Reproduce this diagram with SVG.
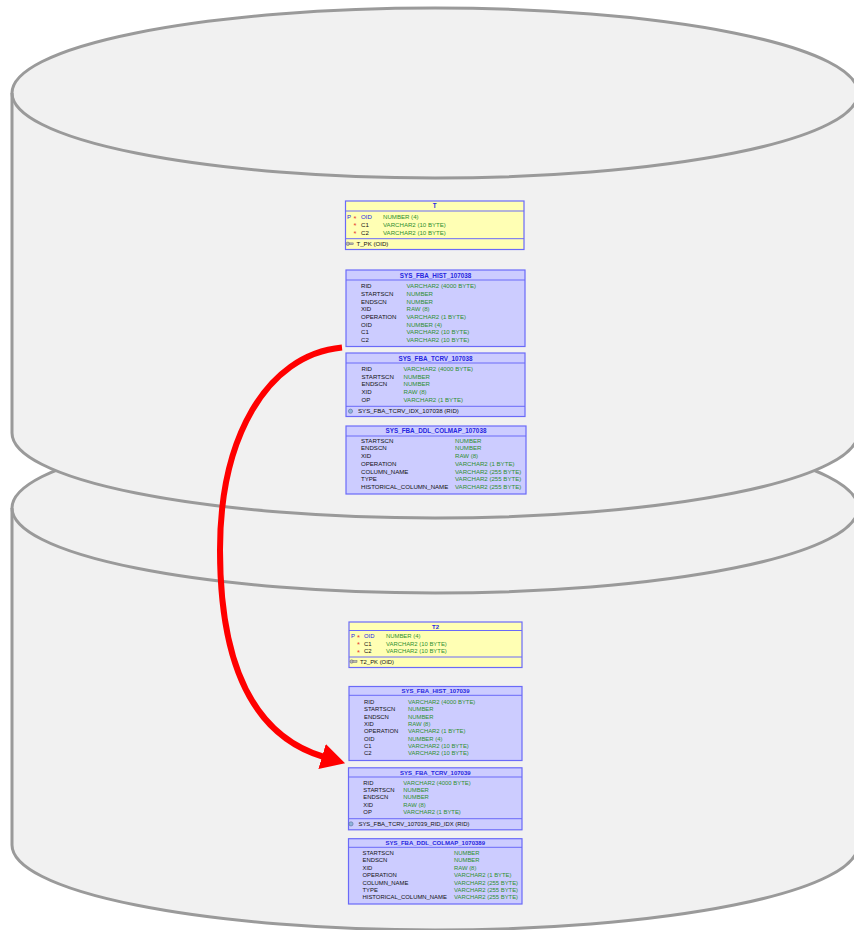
<svg xmlns="http://www.w3.org/2000/svg" width="854" height="930" viewBox="0 0 854 930">
  <style>
    .cyl { fill: #f1f1f1; stroke: #9a9a9a; stroke-width: 3; }
    .cyl-edge { fill: none; stroke: #9a9a9a; stroke-width: 3; }
    .tbl-y { fill: #ffffb4; stroke: #6a6af8; stroke-width: 1.2; }
    .tbl-p { fill: #ccccff; stroke: #6a6af8; stroke-width: 1.2; }
    .sep { stroke: #6a6af8; stroke-width: 1; }
    text { font-family: "Liberation Sans", Arial, sans-serif; }
    .hdr { font-size: 6.3px; font-weight: bold; fill: #2626e0; text-anchor: middle; }
    .lo .hdr { font-size: 6px; }
    .c { font-size: 6.1px; fill: #111; }
    .t { font-size: 6.1px; fill: #2f8f2f; }
    .lo .c, .lo .t { font-size: 5.9px; }
    .pk { fill: #2626e0; }
    .star { font-size: 7.5px; fill: #e63b2e; }
    .flow { fill: none; stroke: #ff0000; stroke-width: 6; }
  </style>
  <defs>
    <marker id="head" markerUnits="userSpaceOnUse" markerWidth="26" markerHeight="28" refX="2" refY="13" orient="auto">
      <path d="M0,0 L24,13 L0,26 Z" fill="#ff0000"/>
    </marker>
    <g id="key">
      <circle cx="1.8" cy="0" r="1.7" fill="#b8b8b8" stroke="#6e6e6e" stroke-width="0.6"/>
      <rect x="3.2" y="-0.9" width="4" height="1.8" fill="#b8b8b8" stroke="#6e6e6e" stroke-width="0.5"/>
    </g>
    <g id="idx">
      <circle cx="0" cy="0" r="2.1" fill="#8fb4dc" stroke="#5a6f9a" stroke-width="0.6"/>
    </g>
  </defs>

  <!-- lower cylinder (drawn first, sits behind) -->
  <g id="cylinder-lower">
    <path class="cyl" d="M12 508 A423 85 0 0 1 858 508 L858 845 A423 85 0 0 1 12 845 Z"/>
    <path class="cyl-edge" d="M12 508 A423 85 0 0 0 858 508"/>
  </g>

  <!-- upper cylinder -->
  <g id="cylinder-upper">
    <path class="cyl" d="M12 93 A423 85 0 0 1 858 93 L858 433 A423 85 0 0 1 12 433 Z"/>
    <path class="cyl-edge" d="M12 93 A423 85 0 0 0 858 93"/>
  </g>

  <!-- table T -->
  <g id="tbl-T">
    <rect class="tbl-y" x="345.5" y="201" width="178.5" height="48.5"/>
    <line class="sep" x1="345.5" y1="211" x2="524" y2="211"/>
    <line class="sep" x1="345.5" y1="238.7" x2="524" y2="238.7"/>
    <text class="hdr" x="434.8" y="208.3">T</text>
    <text class="c pk" x="347" y="219">P</text>
    <text class="star" x="353.5" y="220.5">*</text>
    <text class="c pk" x="361" y="219">OID</text>
    <text class="t" x="383" y="219">NUMBER (4)</text>
    <text class="star" x="353.5" y="228.3">*</text>
    <text class="c" x="361" y="226.8">C1</text>
    <text class="t" x="383" y="226.8">VARCHAR2 (10 BYTE)</text>
    <text class="star" x="353.5" y="236.1">*</text>
    <text class="c" x="361" y="234.6">C2</text>
    <text class="t" x="383" y="234.6">VARCHAR2 (10 BYTE)</text>
    <use href="#key" x="346" y="243.8"/>
    <text class="c" x="356.5" y="245.9">T_PK (OID)</text>
  </g>

  <!-- table SYS_FBA_HIST_107038 -->
  <g id="tbl-hist-107038">
    <rect class="tbl-p" x="346" y="270" width="179" height="76.5"/>
    <line class="sep" x1="346" y1="280" x2="525" y2="280"/>
    <text class="hdr" x="435.5" y="277.5">SYS_FBA_HIST_107038</text>
    <text class="c" x="361" y="288.2">RID</text><text class="t" x="406.5" y="288.2">VARCHAR2 (4000 BYTE)</text>
    <text class="c" x="361" y="295.9">STARTSCN</text><text class="t" x="406.5" y="295.9">NUMBER</text>
    <text class="c" x="361" y="303.6">ENDSCN</text><text class="t" x="406.5" y="303.6">NUMBER</text>
    <text class="c" x="361" y="311.3">XID</text><text class="t" x="406.5" y="311.3">RAW (8)</text>
    <text class="c" x="361" y="319">OPERATION</text><text class="t" x="406.5" y="319">VARCHAR2 (1 BYTE)</text>
    <text class="c" x="361" y="326.7">OID</text><text class="t" x="406.5" y="326.7">NUMBER (4)</text>
    <text class="c" x="361" y="334.4">C1</text><text class="t" x="406.5" y="334.4">VARCHAR2 (10 BYTE)</text>
    <text class="c" x="361" y="342.1">C2</text><text class="t" x="406.5" y="342.1">VARCHAR2 (10 BYTE)</text>
  </g>

  <!-- table SYS_FBA_TCRV_107038 -->
  <g id="tbl-tcrv-107038">
    <rect class="tbl-p" x="346" y="353" width="179" height="63.5"/>
    <line class="sep" x1="346" y1="363" x2="525" y2="363"/>
    <line class="sep" x1="346" y1="406.3" x2="525" y2="406.3"/>
    <text class="hdr" x="435.5" y="360.5">SYS_FBA_TCRV_107038</text>
    <text class="c" x="361.5" y="370.9">RID</text><text class="t" x="403.5" y="370.9">VARCHAR2 (4000 BYTE)</text>
    <text class="c" x="361.5" y="378.6">STARTSCN</text><text class="t" x="403.5" y="378.6">NUMBER</text>
    <text class="c" x="361.5" y="386.3">ENDSCN</text><text class="t" x="403.5" y="386.3">NUMBER</text>
    <text class="c" x="361.5" y="394">XID</text><text class="t" x="403.5" y="394">RAW (8)</text>
    <text class="c" x="361.5" y="401.7">OP</text><text class="t" x="403.5" y="401.7">VARCHAR2 (1 BYTE)</text>
    <use href="#idx" x="350.5" y="411.2"/>
    <text class="c" x="358" y="413.3">SYS_FBA_TCRV_IDX_107038 (RID)</text>
  </g>

  <!-- table SYS_FBA_DDL_COLMAP_107038 -->
  <g id="tbl-colmap-107038">
    <rect class="tbl-p" x="346" y="426" width="180" height="68"/>
    <line class="sep" x1="346" y1="436" x2="526" y2="436"/>
    <text class="hdr" x="436" y="432.5">SYS_FBA_DDL_COLMAP_107038</text>
    <text class="c" x="361" y="442.7">STARTSCN</text><text class="t" x="455" y="442.7">NUMBER</text>
    <text class="c" x="361" y="450.4">ENDSCN</text><text class="t" x="455" y="450.4">NUMBER</text>
    <text class="c" x="361" y="458.2">XID</text><text class="t" x="455" y="458.2">RAW (8)</text>
    <text class="c" x="361" y="465.9">OPERATION</text><text class="t" x="455" y="465.9">VARCHAR2 (1 BYTE)</text>
    <text class="c" x="361" y="473.7">COLUMN_NAME</text><text class="t" x="455" y="473.7">VARCHAR2 (255 BYTE)</text>
    <text class="c" x="361" y="481.4">TYPE</text><text class="t" x="455" y="481.4">VARCHAR2 (255 BYTE)</text>
    <text class="c" x="361" y="489.2">HISTORICAL_COLUMN_NAME</text><text class="t" x="455" y="489.2">VARCHAR2 (255 BYTE)</text>
  </g>

  <!-- table T2 -->
  <g id="tbl-T2" class="lo">
    <rect class="tbl-y" x="349" y="622" width="173" height="45.5"/>
    <line class="sep" x1="349" y1="630.5" x2="522" y2="630.5"/>
    <line class="sep" x1="349" y1="657" x2="522" y2="657"/>
    <text class="hdr" x="435.5" y="628.5">T2</text>
    <text class="c pk" x="351" y="638.4">P</text>
    <text class="star" x="357" y="639.9">*</text>
    <text class="c pk" x="364" y="638.4">OID</text>
    <text class="t" x="386" y="638.4">NUMBER (4)</text>
    <text class="star" x="357" y="647.3">*</text>
    <text class="c" x="364" y="645.8">C1</text>
    <text class="t" x="386" y="645.8">VARCHAR2 (10 BYTE)</text>
    <text class="star" x="357" y="654.6">*</text>
    <text class="c" x="364" y="653.1">C2</text>
    <text class="t" x="386" y="653.1">VARCHAR2 (10 BYTE)</text>
    <use href="#key" x="349.8" y="661.5"/>
    <text class="c" x="360" y="663.6">T2_PK (OID)</text>
  </g>

  <!-- table SYS_FBA_HIST_107039 -->
  <g id="tbl-hist-107039" class="lo">
    <rect class="tbl-p" x="349" y="686.5" width="173" height="74"/>
    <line class="sep" x1="349" y1="695.3" x2="522" y2="695.3"/>
    <text class="hdr" x="435.5" y="693.1">SYS_FBA_HIST_107039</text>
    <text class="c" x="364" y="703.8">RID</text><text class="t" x="408" y="703.8">VARCHAR2 (4000 BYTE)</text>
    <text class="c" x="364" y="711.2">STARTSCN</text><text class="t" x="408" y="711.2">NUMBER</text>
    <text class="c" x="364" y="718.5">ENDSCN</text><text class="t" x="408" y="718.5">NUMBER</text>
    <text class="c" x="364" y="725.9">XID</text><text class="t" x="408" y="725.9">RAW (8)</text>
    <text class="c" x="364" y="733.2">OPERATION</text><text class="t" x="408" y="733.2">VARCHAR2 (1 BYTE)</text>
    <text class="c" x="364" y="740.6">OID</text><text class="t" x="408" y="740.6">NUMBER (4)</text>
    <text class="c" x="364" y="747.9">C1</text><text class="t" x="408" y="747.9">VARCHAR2 (10 BYTE)</text>
    <text class="c" x="364" y="755.3">C2</text><text class="t" x="408" y="755.3">VARCHAR2 (10 BYTE)</text>
  </g>

  <!-- table SYS_FBA_TCRV_107039 -->
  <g id="tbl-tcrv-107039" class="lo">
    <rect class="tbl-p" x="348.5" y="767.8" width="173.5" height="62"/>
    <line class="sep" x1="348.5" y1="777" x2="522" y2="777"/>
    <line class="sep" x1="348.5" y1="818.7" x2="522" y2="818.7"/>
    <text class="hdr" x="435.3" y="775.1">SYS_FBA_TCRV_107039</text>
    <text class="c" x="363.3" y="784.5">RID</text><text class="t" x="403.3" y="784.5">VARCHAR2 (4000 BYTE)</text>
    <text class="c" x="363.3" y="791.9">STARTSCN</text><text class="t" x="403.3" y="791.9">NUMBER</text>
    <text class="c" x="363.3" y="799.3">ENDSCN</text><text class="t" x="403.3" y="799.3">NUMBER</text>
    <text class="c" x="363.3" y="806.7">XID</text><text class="t" x="403.3" y="806.7">RAW (8)</text>
    <text class="c" x="363.3" y="814.1">OP</text><text class="t" x="403.3" y="814.1">VARCHAR2 (1 BYTE)</text>
    <use href="#idx" x="351" y="823.9"/>
    <text class="c" x="358.5" y="826">SYS_FBA_TCRV_107039_RID_IDX (RID)</text>
  </g>

  <!-- table SYS_FBA_DDL_COLMAP_1070389 -->
  <g id="tbl-colmap-1070389" class="lo">
    <rect class="tbl-p" x="348.5" y="838.7" width="173.5" height="65.3"/>
    <line class="sep" x1="348.5" y1="847.3" x2="522" y2="847.3"/>
    <text class="hdr" x="435.3" y="845.4">SYS_FBA_DDL_COLMAP_1070389</text>
    <text class="c" x="362.5" y="854.9">STARTSCN</text><text class="t" x="454" y="854.9">NUMBER</text>
    <text class="c" x="362.5" y="862.3">ENDSCN</text><text class="t" x="454" y="862.3">NUMBER</text>
    <text class="c" x="362.5" y="869.7">XID</text><text class="t" x="454" y="869.7">RAW (8)</text>
    <text class="c" x="362.5" y="877.1">OPERATION</text><text class="t" x="454" y="877.1">VARCHAR2 (1 BYTE)</text>
    <text class="c" x="362.5" y="884.5">COLUMN_NAME</text><text class="t" x="454" y="884.5">VARCHAR2 (255 BYTE)</text>
    <text class="c" x="362.5" y="891.9">TYPE</text><text class="t" x="454" y="891.9">VARCHAR2 (255 BYTE)</text>
    <text class="c" x="362.5" y="899.3">HISTORICAL_COLUMN_NAME</text><text class="t" x="454" y="899.3">VARCHAR2 (255 BYTE)</text>
  </g>

  <!-- connectors -->
  <g id="connectors">
    <path class="flow" marker-end="url(#head)" d="M342 347.5 C265 355 220 440 220 550 C220 660 250 735 324 757"/>
  </g>
</svg>
